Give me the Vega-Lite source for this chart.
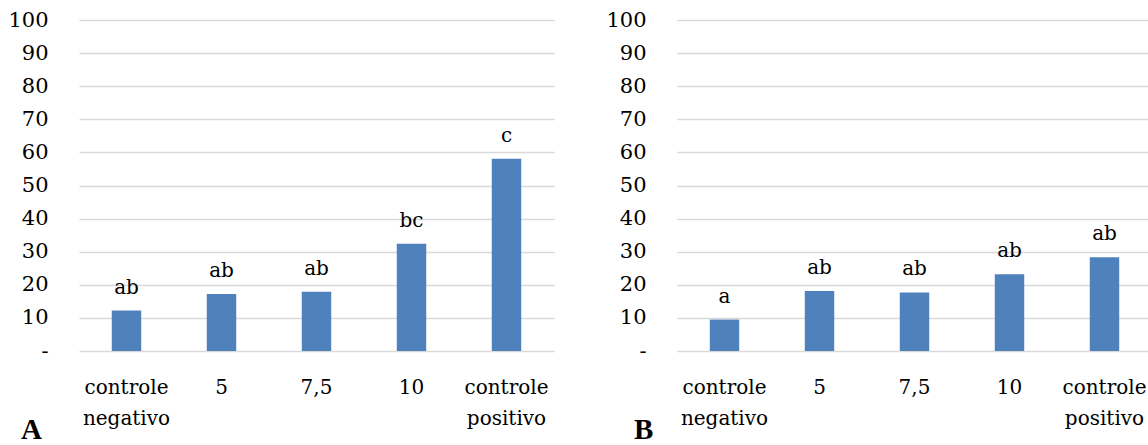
{
  "$schema": "https://vega.github.io/schema/vega-lite/v6.json",
  "background": "white",
  "padding": {"left": 7, "top": 9, "right": 0, "bottom": 0},
  "spacing": 51,
  "config": {
    "font": "DejaVu Serif",
    "view": {"stroke": null},
    "axis": {
      "labelFont": "DejaVu Serif",
      "labelFontSize": 20,
      "labelColor": "#000",
      "ticks": false,
      "domain": false,
      "title": null,
      "labelOverlap": false
    },
    "axisY": {"labelFontSize": 21},
    "text": {"font": "DejaVu Serif"},
    "title": {"font": "Liberation Serif", "fontSize": 29, "fontWeight": "bold", "color": "#000"}
  },
  "datasets": {
    "painelA": [
      {"dose": "controle negativo", "valor": 12.2, "letra": "ab"},
      {"dose": "5", "valor": 17.2, "letra": "ab"},
      {"dose": "7,5", "valor": 17.9, "letra": "ab"},
      {"dose": "10", "valor": 32.4, "letra": "bc"},
      {"dose": "controle positivo", "valor": 58.1, "letra": "c"}
    ],
    "painelB": [
      {"dose": "controle negativo", "valor": 9.5, "letra": "a"},
      {"dose": "5", "valor": 18.1, "letra": "ab"},
      {"dose": "7,5", "valor": 17.7, "letra": "ab"},
      {"dose": "10", "valor": 23.2, "letra": "ab"},
      {"dose": "controle positivo", "valor": 28.3, "letra": "ab"}
    ]
  },
  "hconcat": [
    {
      "width": 475,
      "height": 331,
      "data": {"name": "painelA"},
      "title": {"text": "A", "orient": "bottom", "anchor": "start", "frame": "group", "dx": -58, "offset": -12},
      "encoding": {
        "x": {
          "field": "dose", "type": "nominal", "sort": null,
          "scale": {"paddingInner": 0.69, "paddingOuter": 0.345},
          "axis": {"labelAngle": 0, "labelExpr": "split(datum.label, ' ')", "labelPadding": 26, "labelLineHeight": 31, "labelBaseline": "top"}
        },
        "y": {
          "field": "valor", "type": "quantitative",
          "scale": {"domain": [0, 100]},
          "axis": {
            "values": [0, 10, 20, 30, 40, 50, 60, 70, 80, 90, 100],
            "grid": true, "gridColor": "#d9d9d9", "gridWidth": 1.3,
            "labelPadding": 31,
            "labelExpr": "datum.value == 0 ? '-\u00a0\u00a0' : datum.label"
          }
        }
      },
      "layer": [
        {"mark": {"type": "bar", "color": "#4f81bd"}},
        {
          "mark": {"type": "text", "baseline": "alphabetic", "dy": -17, "fontSize": 20, "color": "#000"},
          "encoding": {"text": {"field": "letra"}}
        }
      ]
    },
    {
      "width": 475,
      "height": 331,
      "data": {"name": "painelB"},
      "title": {"text": "B", "orient": "bottom", "anchor": "start", "frame": "group", "dx": -43, "offset": -12},
      "encoding": {
        "x": {
          "field": "dose", "type": "nominal", "sort": null,
          "scale": {"paddingInner": 0.69, "paddingOuter": 0.345},
          "axis": {"labelAngle": 0, "labelExpr": "split(datum.label, ' ')", "labelPadding": 26, "labelLineHeight": 31, "labelBaseline": "top"}
        },
        "y": {
          "field": "valor", "type": "quantitative",
          "scale": {"domain": [0, 100]},
          "axis": {
            "values": [0, 10, 20, 30, 40, 50, 60, 70, 80, 90, 100],
            "grid": true, "gridColor": "#d9d9d9", "gridWidth": 1.3,
            "labelPadding": 31,
            "labelExpr": "datum.value == 0 ? '-\u00a0\u00a0' : datum.label"
          }
        }
      },
      "layer": [
        {"mark": {"type": "bar", "color": "#4f81bd"}},
        {
          "mark": {"type": "text", "baseline": "alphabetic", "dy": -17, "fontSize": 20, "color": "#000"},
          "encoding": {"text": {"field": "letra"}}
        }
      ]
    }
  ]
}
